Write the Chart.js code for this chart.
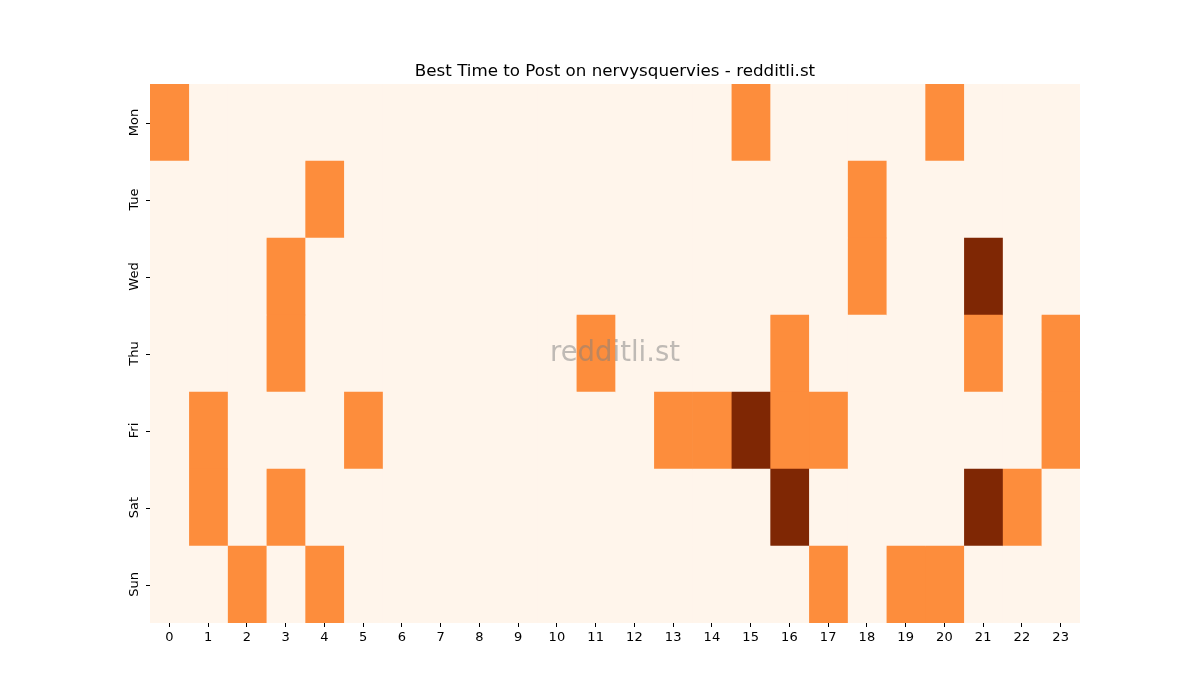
<!DOCTYPE html>
<html><head><meta charset="utf-8">
<script src="https://cdn.jsdelivr.net/npm/chart.js@4"></script>
<style>html,body{margin:0;padding:0;background:#fff}#wrap{width:1200px;height:700px}</style>
</head><body><div id="wrap"><canvas id="c" width="1200" height="700"></canvas></div>
<script>
const days = ['Mon','Tue','Wed','Thu','Fri','Sat','Sun'];
const hours = [0,1,2,3,4,5,6,7,8,9,10,11,12,13,14,15,16,17,18,19,20,21,22,23];
const titleText = 'Best Time to Post on nervysquervies - redditli.st';
// values per day, index = hour
const mon = [1,0,0,0,0,0,0,0,0,0,0,0,0,0,0,1,0,0,0,0,1,0,0,0];
const tue = [0,0,0,0,1,0,0,0,0,0,0,0,0,0,0,0,0,0,1,0,0,0,0,0];
const wed = [0,0,0,1,0,0,0,0,0,0,0,0,0,0,0,0,0,0,1,0,0,2,0,0];
const thu = [0,0,0,1,0,0,0,0,0,0,0,1,0,0,0,0,1,0,0,0,0,1,0,1];
const fri = [0,1,0,0,0,1,0,0,0,0,0,0,0,1,1,2,1,1,0,0,0,0,0,1];
const sat = [0,1,0,1,0,0,0,0,0,0,0,0,0,0,0,0,2,0,0,0,0,2,1,0];
const sun = [0,0,1,0,1,0,0,0,0,0,0,0,0,0,0,0,0,1,0,1,1,0,0,0];
const grid = [mon,tue,wed,thu,fri,sat,sun];
const palette = ['#fff5eb','#fd8d3c','#7f2704'];

const datasets = hours.map(h => ({
  label: String(h),
  data: days.map(() => [h, h + 1]),
  backgroundColor: grid.map(row => palette[row[h]]),
  borderWidth: 0,
  borderSkipped: false,
  barPercentage: 1,
  categoryPercentage: 1,
  grouped: false
}));

const extras = {
  id: 'extras',
  afterDatasetsDraw(chart) {
    const a = chart.chartArea, ctx = chart.ctx;
    ctx.save();
    ctx.font = '27.5px "DejaVu Sans"';
    ctx.fillStyle = 'rgba(128,128,128,0.5)';
    ctx.textAlign = 'center';
    ctx.textBaseline = 'middle';
    ctx.fillText('redditli.st', (a.left + a.right) / 2, (a.top + a.bottom) / 2);
    ctx.restore();
  },
  afterDraw(chart) {
    const a = chart.chartArea, ctx = chart.ctx;
    ctx.save();
    ctx.fillStyle = '#000';
    ctx.strokeStyle = '#000';
    ctx.lineWidth = 1;
    ctx.font = '16.7px "DejaVu Sans"';
    ctx.textAlign = 'center';
    ctx.textBaseline = 'alphabetic';
    ctx.fillText(titleText, (a.left + a.right) / 2, a.top - 8);
    const ys = chart.scales.y;
    ctx.font = '13px "DejaVu Sans"';
    ctx.textBaseline = 'bottom';
    days.forEach((d, i) => {
      const y = ys.getPixelForValue(i);
      ctx.beginPath();
      ctx.moveTo(a.left - 4, Math.round(y) + 0.5);
      ctx.lineTo(a.left, Math.round(y) + 0.5);
      ctx.stroke();
      ctx.save();
      ctx.translate(a.left - 9, y);
      ctx.rotate(-Math.PI / 2);
      ctx.textAlign = 'center';
      ctx.fillText(d, 0, 0);
      ctx.restore();
    });
    ctx.restore();
  }
};

new Chart(document.getElementById('c'), {
  type: 'bar',
  data: { labels: days, datasets },
  plugins: [extras],
  options: {
    indexAxis: 'y',
    responsive: false,
    animation: false,
    layout: { padding: { left: 0, right: 120, top: 84, bottom: 0 } },
    plugins: {
      legend: { display: false },
      tooltip: { enabled: false },
      title: { display: false }
    },
    scales: {
      x: {
        type: 'linear', min: 0, max: 24,
        afterBuildTicks(s) { s.ticks = hours.map(h => ({ value: h + 0.5 })); },
        afterFit(s) { s.height = 77; },
        ticks: {
          autoSkip: false, maxRotation: 0, color: '#000', padding: 3,
          font: { family: 'DejaVu Sans', size: 13 },
          callback: (v) => String(Math.round(v - 0.5))
        },
        grid: { drawOnChartArea: false, drawTicks: true, tickLength: 4, color: '#000', tickWidth: 1 },
        border: { display: false }
      },
      y: {
        type: 'category',
        afterFit(s) { s.width = 150; },
        ticks: { display: false },
        grid: { display: false },
        border: { display: false }
      }
    }
  }
});
</script></body></html>
